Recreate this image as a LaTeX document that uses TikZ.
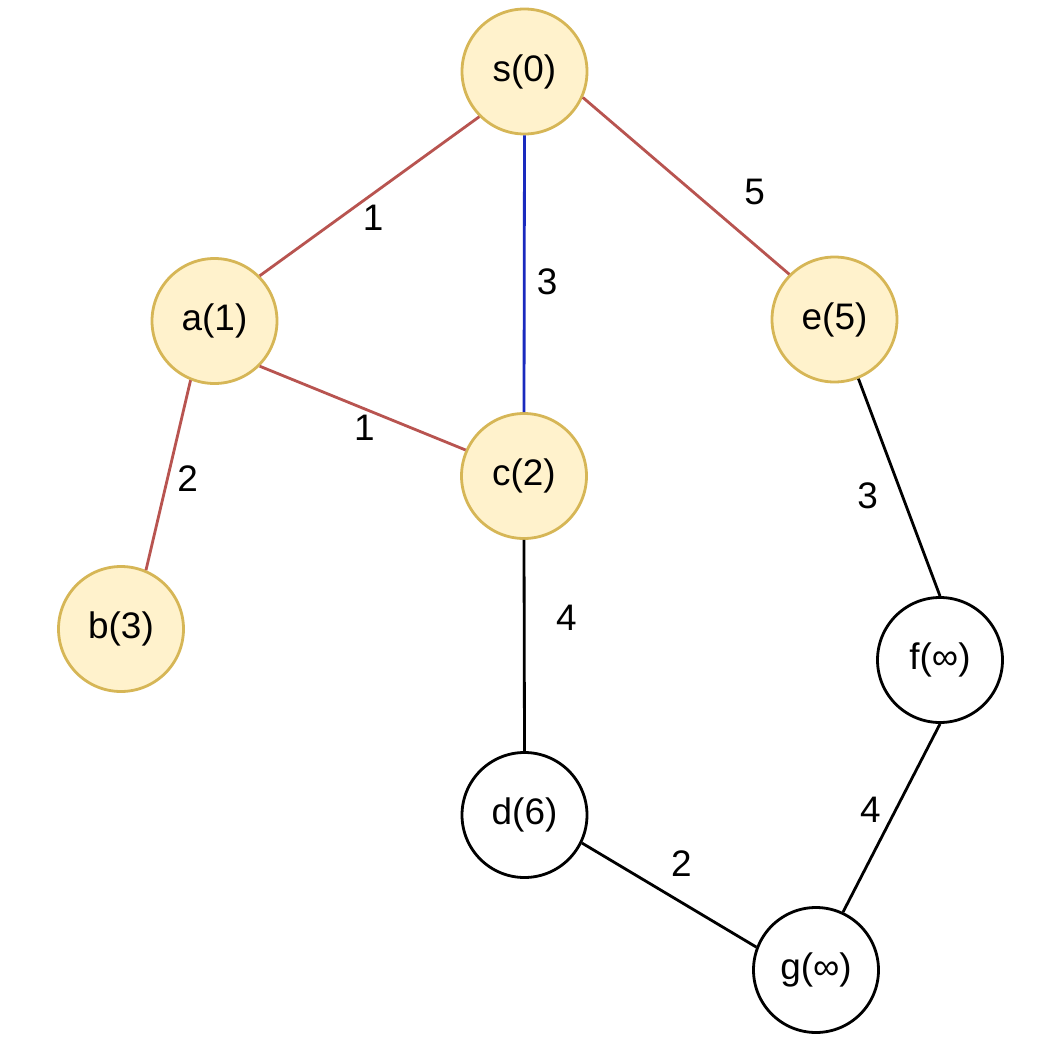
\documentclass[tikz,border=0pt]{standalone}
\usepackage{fontspec}
\setmainfont{Liberation Sans}
\definecolor{vfill}{HTML}{FFF2CC}
\definecolor{vdraw}{HTML}{D6B656}
\definecolor{redge}{HTML}{B85450}
\definecolor{bedge}{RGB}{26,42,190}
\begin{document}
\begin{tikzpicture}
            \tikzstyle{node}=[circle, draw=black, fill=white, line width=1.6pt, inner sep=0pt, minimum size=2.5cm, font=\fontsize{21}{25}\selectfont]
            \tikzstyle{seen}=[node, draw=vdraw, fill=vfill]
            \tikzstyle{linenode}=[pos=0.5, inner sep=0pt, font=\fontsize{21}{25}\selectfont]
            \useasboundingbox (0,0) rectangle (21,-21.16);
            \node[seen] (S) at (10.49,-1.43) {s(0)};
            \node[seen] (A) at (4.29,-6.42) {a(1)};
            \node[seen] (E) at (16.69,-6.39) {e(5)};
            \node[seen] (C) at (10.48,-9.52) {c(2)};
            \node[seen] (B) at (2.42,-12.58) {b(3)};
            \node[node] (F) at (18.8,-13.2) {f(∞)};
            \node[node] (D) at (10.49,-16.3) {d(6)};
            \node[node] (G) at (16.32,-19.4) {g(∞)};
            \path [line width=1.6pt, draw=redge] (S.225) edge[] node[linenode, xshift=2pt, yshift=-12pt] {1} (A.45);
            \path [line width=1.6pt, draw=bedge] (S.270) edge[] node[linenode, xshift=13pt, yshift=-4.5pt] {3} (C.90);
            \path [line width=1.6pt, draw=redge] (S.336) edge[] node[linenode, xshift=39pt, yshift=-3.5pt] {5} (E.135);
            \path [line width=1.6pt, draw=redge] (A.315) edge[] node[linenode, xshift=1pt, yshift=-11pt] {1} (C.156);
            \path [line width=1.6pt, draw=redge] (A.248.6) edge[] node[linenode, xshift=11pt, yshift=-2pt] {2} (B.67);
            \path [line width=1.6pt] (C.270) edge[] node[linenode, xshift=24pt, yshift=16pt] {4} (D.90);
            \path [line width=1.6pt] (E.292.6) edge[] node[linenode, xshift=-18pt, yshift=-4.5pt] {3} (F.90);
            \path [line width=1.6pt] (F.270) edge[] node[linenode, xshift=-12pt, yshift=4.5pt] {4} (G.65.4);
            \path [line width=1.6pt] (D.334) edge[] node[linenode, xshift=7pt, yshift=18pt] {2} (G.159.5);
        \end{tikzpicture}
\end{document}
